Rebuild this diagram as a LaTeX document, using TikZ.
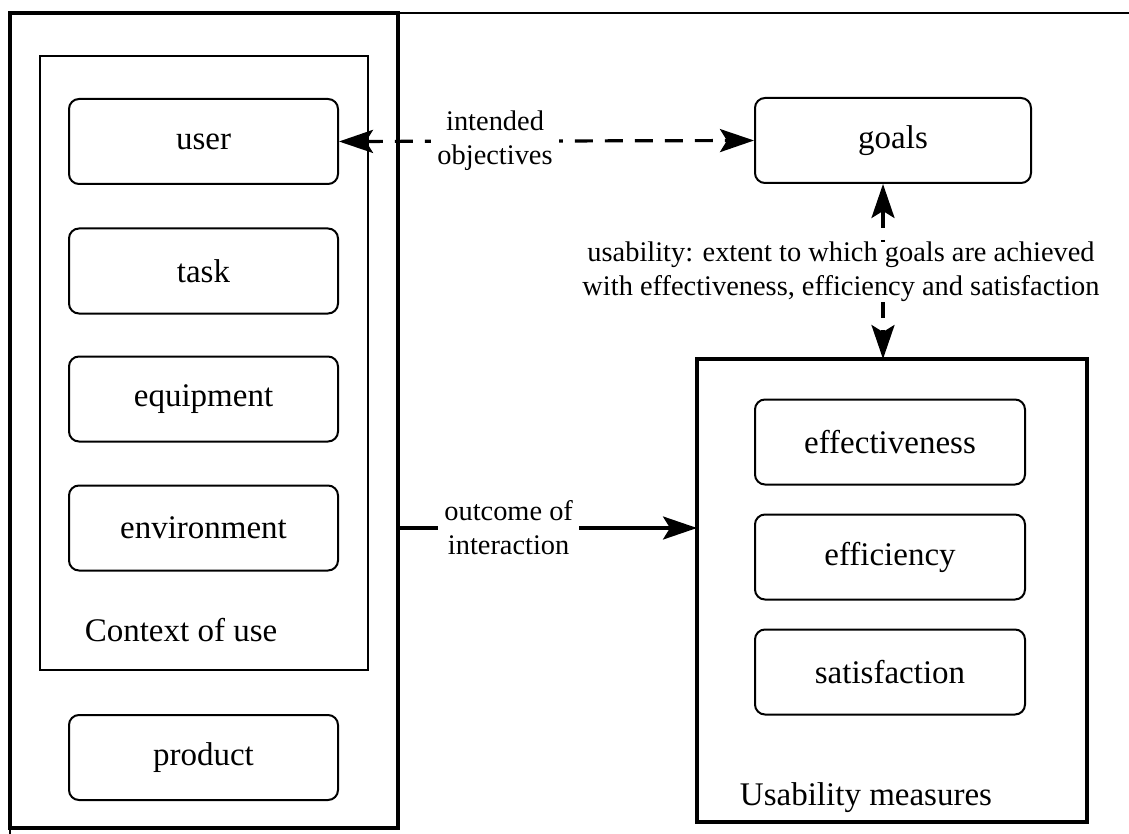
\documentclass[tikz,border=0pt]{standalone}
\usepackage{fontspec}
\setmainfont{Liberation Serif}
\usetikzlibrary{arrows.meta}
\begin{document}
\begin{tikzpicture}[x=0.5pt,y=-0.5pt,
  frame/.style={draw, line width=2pt, inner sep=0pt, outer sep=0pt},
  ctxbox/.style={draw, line width=1pt, inner sep=0pt},
  item/.style={draw, line width=1pt, rounded corners=5pt, minimum height=42.5pt, inner sep=0pt, font=\fontsize{16.5}{19}\selectfont},
  lbl/.style={inner sep=0pt, font=\fontsize{16.5}{19}\selectfont},
  small/.style={font=\fontsize{14.2}{17}\selectfont, align=center, inner sep=1pt},
  tip/.style={Stealth[length=17pt,width=11.5pt,inset=3.5pt]},
  conn/.style={line width=1.6pt},
  dashconn/.style={line width=1.6pt, dash pattern=on 9pt off 6pt},
]
\useasboundingbox (0,0) rectangle (1129,834);

% left frame
\node[frame, minimum width=194pt, minimum height=407.5pt] (outer) at (204,420.5) {};
\node[ctxbox, minimum width=164pt, minimum height=307pt] (ctx) at (204,363) {};
\node[item, minimum width=134.5pt] (user) at (203.5,141.5) {user};
\node[item, minimum width=134.5pt] (task) at (203.5,271) {task};
\node[item, minimum width=134.5pt] (equip) at (203.5,399) {equipment};
\node[item, minimum width=134.5pt] (env) at (203.5,528) {environment};
\node[lbl] (ctxlbl) at (181,630) {Context of use};
\node[item, minimum width=134.5pt] (product) at (203.5,757.5) {product};

% page frame remnants
\coordinate (topend) at (1129,13);
\coordinate (botend) at (10,834);
\draw[line width=0.8pt] (outer.north east) -- (outer.north east -| topend);
\draw[line width=0.8pt] (outer.south west) -- (outer.south west |- botend);

% right side
\node[item, minimum width=138pt] (goals) at (893,140.5) {goals};
\node[frame, minimum width=195pt, minimum height=231.5pt] (usab) at (892,590.5) {};
\node[item, minimum width=135pt] (effect) at (890,442) {effectiveness};
\node[item, minimum width=135pt] (effic) at (890,557) {efficiency};
\node[item, minimum width=135pt] (satis) at (890,672) {satisfaction};
\node[lbl] (usablbl) at (866,798) {Usability measures};

% connectors
\draw[dashconn, {Stealth[length=17pt,width=11.5pt,inset=3.5pt]}-{Stealth[length=17pt,width=11.5pt,inset=3.5pt]}]
  (user.east) -- node[pos=0.376, small, fill=white, inner sep=3pt] (intlbl) {intended\\objectives} (goals.west);

\draw[dashconn, {Stealth[length=17pt,width=11.5pt,inset=3.5pt]}-{Stealth[length=17pt,width=11.5pt,inset=3.5pt]}]
  ([xshift=-5pt]goals.south) -- ([xshift=-4.5pt]usab.north);
\node[small, fill=white, inner sep=0pt] (uselbl) at (841,272) {usability: extent to which goals are achieved\\with effectiveness, efficiency and satisfaction};

\draw[conn, -{Stealth[length=17pt,width=11.5pt,inset=3.5pt]}]
  (outer.east |- env.center) -- node[pos=0.37, small, fill=white, inner sep=3pt] (outlbl) {outcome of\\interaction} (usab.west |- env.center);
\end{tikzpicture}
\end{document}
